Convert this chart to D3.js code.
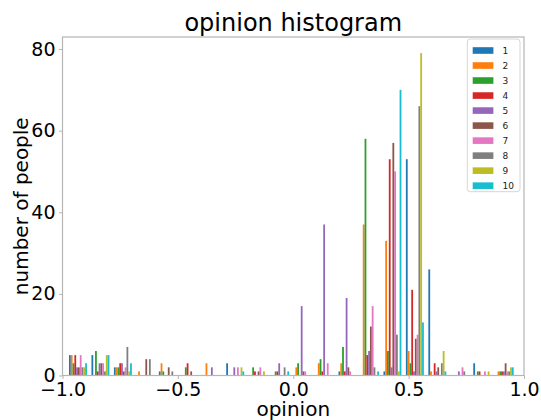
<!DOCTYPE html>
<html>
<head>
<meta charset="utf-8">
<script src="https://cdn.jsdelivr.net/npm/d3@7"></script>
<style>
  body { margin: 0; background: #fff; }
  text { font-family: "DejaVu Sans", sans-serif; }
</style>
</head>
<body>
<div id="chart"></div>
<script>
'use strict'
var width = 541;
var height = 420;

// histogram range (min / max of the opinions) and bin count
var binMin = -0.9816;
var binMax = 0.9651;
var binCount = 20;

// counts per bin, one array per run
var run1  = [5,5,2,0,1,0,0,3,0,0,0,0,1,0,1,53,26,0,3,0];
var run2  = [5,0,2,1,3,0,3,0,0,0,2,3,3,37,33,6,1,0,0,1];
var run3  = [3,6,2,0,1,2,0,0,2,1,3,4,7,58,6,3,0,0,1,1];
var run4  = [5,1,3,0,0,3,0,0,1,1,0,1,1,5,53,21,3,0,1,1];
var run5  = [2,3,3,0,0,0,2,2,0,3,17,37,19,6,2,1,1,1,0,1];
var run6  = [2,3,1,4,2,1,0,0,1,0,1,0,2,12,57,9,2,0,0,3];
var run7  = [5,3,2,0,0,0,0,2,2,0,1,3,1,17,50,10,0,2,1,1];
var run8  = [2,1,7,4,1,0,0,0,0,2,0,0,0,2,10,66,3,1,0,1];
var run9  = [2,5,1,0,0,0,0,2,1,0,0,0,0,0,1,79,6,0,1,2];
var run10 = [3,5,3,0,0,0,0,1,0,1,0,0,0,1,70,13,1,0,0,2];

var runs = [run1, run2, run3, run4, run5, run6, run7, run8, run9, run10];
var runLabels = ['1','2','3','4','5','6','7','8','9','10'];
var xTicks = [-1.0, -0.5, 0.0, 0.5, 1.0];
var yTicks = [0, 20, 40, 60, 80];

var colors = ['#1f77b4','#ff7f0e','#2ca02c','#d62728','#9467bd',
              '#8c564b','#e377c2','#7f7f7f','#bcbd22','#17becf'];

var plotLeft = 62.5, plotRight = 524, plotTop = 37, plotBottom = 375.5;

var svg = d3.select('#chart')
	.append('svg')
	.attr('width', width)
	.attr('height', height);

var x = d3.scaleLinear().domain([-1, 1]).range([plotLeft, plotRight]);
var yMax = d3.max(runs, function(r){ return d3.max(r); }) * 1.05;
var y = d3.scaleLinear().domain([0, yMax]).range([plotBottom, plotTop]);

// bar geometry like matplotlib's multi-series hist (rwidth 0.8)
var binW = (binMax - binMin) / binCount;
var barW = 0.8 * binW / runs.length;

svg.append('defs').append('clipPath').attr('id', 'plotclip')
	.append('rect')
	.attr('x', plotLeft).attr('y', plotTop)
	.attr('width', plotRight - plotLeft).attr('height', plotBottom - plotTop);

var bars = svg.append('g').attr('clip-path', 'url(#plotclip)');
runs.forEach(function(run, k){
	bars.append('g')
		.selectAll('rect')
		.data(run)
		.enter()
		.append('rect')
			.attr('x', function(d, i){ return x(binMin + i * binW + 0.1 * binW + k * barW); })
			.attr('width', x(barW) - x(0))
			.attr('y', function(d){ return y(d); })
			.attr('height', function(d){ return y(0) - y(d); })
			.attr('fill', colors[k]);
});

// axes
var axisColor = '#b5b5b5';
var xAxis = svg.append('g')
	.attr('transform', 'translate(0,' + plotBottom + ')')
	.call(d3.axisBottom(x).tickValues(xTicks).tickFormat(d3.format('.1f')).tickSize(3.5).tickPadding(3.5));
var yAxis = svg.append('g')
	.attr('transform', 'translate(' + plotLeft + ',0)')
	.call(d3.axisLeft(y).tickValues(yTicks).tickSize(3.5).tickPadding(3.5));

[xAxis, yAxis].forEach(function(a){
	a.select('.domain').remove();
	a.selectAll('line').attr('stroke', axisColor);
	a.selectAll('text')
		.style('font-size', '19px')
		.attr('fill', '#000');
});

// frame
svg.append('rect')
	.attr('x', plotLeft).attr('y', plotTop)
	.attr('width', plotRight - plotLeft).attr('height', plotBottom - plotTop)
	.attr('fill', 'none')
	.attr('stroke', axisColor)
	.attr('stroke-width', 1.2);

svg.append('text')
	.attr('x', (plotLeft + plotRight) / 2)
	.attr('y', 31)
	.attr('text-anchor', 'middle')
	.style('font-size', '24px')
	.text('opinion histogram');

svg.append('text')
	.attr('x', (plotLeft + plotRight) / 2)
	.attr('y', 416)
	.attr('text-anchor', 'middle')
	.style('font-size', '20px')
	.text('opinion');

svg.append('text')
	.attr('transform', 'translate(28,' + ((plotTop + plotBottom) / 2) + ') rotate(-90)')
	.attr('text-anchor', 'middle')
	.style('font-size', '20px')
	.text('number of people');

// legend
var legend = svg.append('g');
legend.append('rect')
	.attr('x', 467.3).attr('y', 39)
	.attr('width', 52.7).attr('height', 152.7)
	.attr('rx', 3)
	.attr('fill', '#fff')
	.attr('fill-opacity', 0.8)
	.attr('stroke', '#d6d6d6');

var items = legend.selectAll('g.item')
	.data(runLabels)
	.enter()
	.append('g')
		.attr('transform', function(d, i){ return 'translate(0,' + (50.5 + i * 15.02) + ')'; });
items.append('rect')
	.attr('x', 472.7).attr('y', -3.3)
	.attr('width', 20.7).attr('height', 6.6)
	.attr('fill', function(d, i){ return colors[i]; });
items.append('text')
	.attr('x', 502.5)
	.attr('y', 0)
	.attr('dy', '0.35em')
	.style('font-size', '9px')
	.attr('fill', '#222')
	.text(function(d){ return d; });
</script>
</body>
</html>
